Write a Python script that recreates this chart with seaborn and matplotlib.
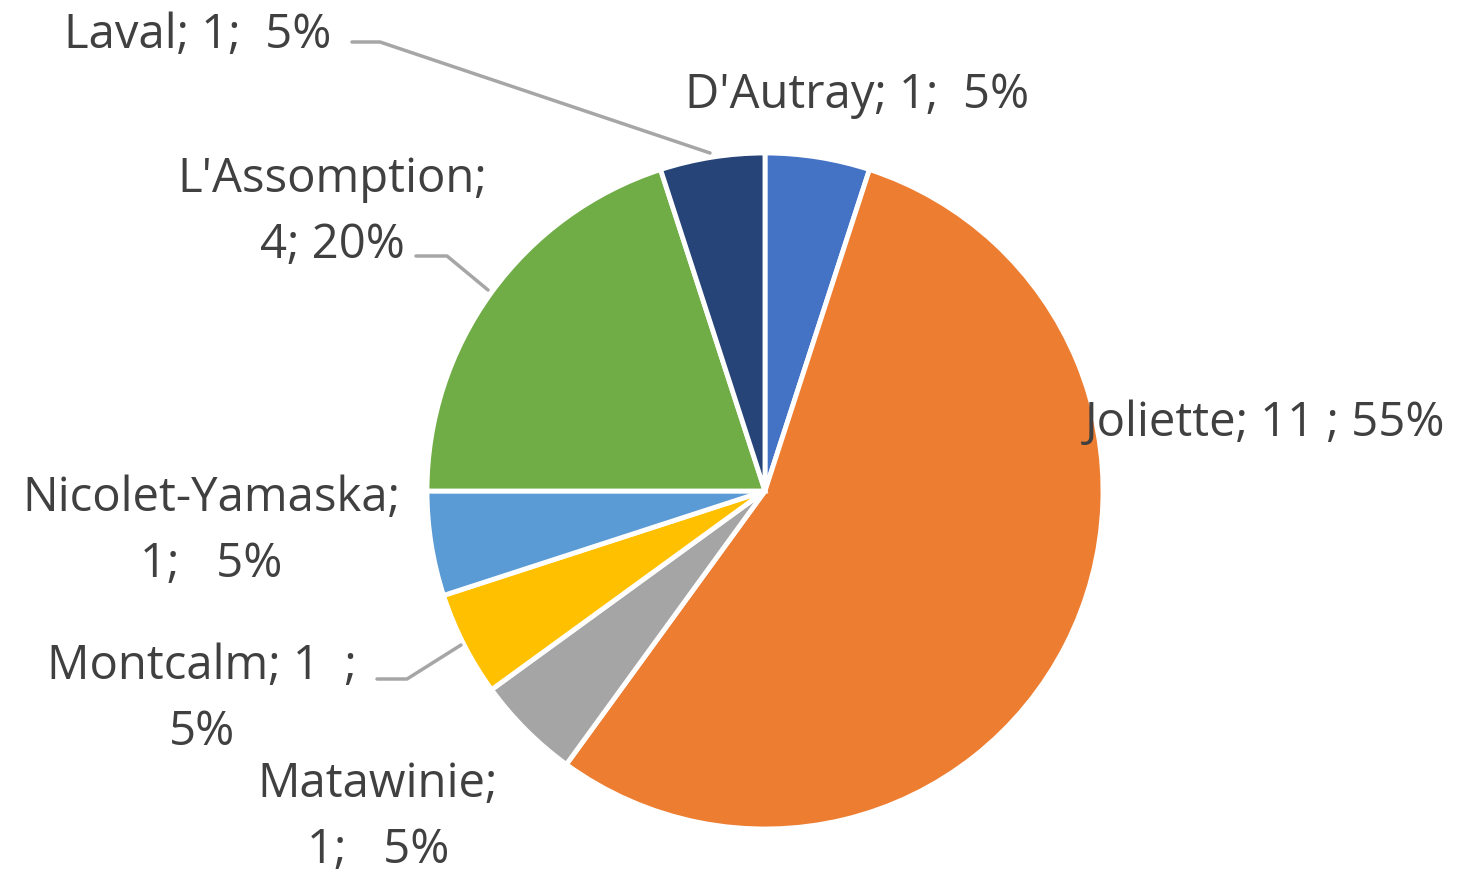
import matplotlib
matplotlib.use("Agg")
import matplotlib.pyplot as plt
import seaborn as sns

sns.set_theme(style="white")
plt.rcParams['font.family'] = ['Open Sans', 'DejaVu Sans']

categories = ["D'Autray", "Joliette", "Matawinie", "Montcalm", "Nicolet-Yamaska", "L'Assomption", "Laval"]
values = [1, 11, 1, 1, 1, 4, 1]
labels = ["D'Autray; 1;  5%", "Joliette; 11 ; 55%", "Matawinie;\n1;   5%", "Montcalm; 1  ;\n5%",
          "Nicolet-Yamaska;\n1;   5%", "L'Assomption;\n4; 20%", "Laval; 1;  5%"]
colors = ["#4472C4", "#ED7D31", "#A5A5A5", "#FFC000", "#5B9BD5", "#70AD47", "#264478"]

W, H = 1465, 875
fig = plt.figure(figsize=(W / 100, H / 100), dpi=100)
fig.patch.set_facecolor("white")

cx, cy, r = 765, 491, 338
ax = fig.add_axes([(cx - r) / W, (H - cy - r) / H, 2 * r / W, 2 * r / H])
ax.pie(values, colors=colors, startangle=90, counterclock=False, radius=1,
       wedgeprops=dict(edgecolor="white", linewidth=3.5))
ax.set_xlim(-1, 1)
ax.set_ylim(-1, 1)
ax.set_aspect("auto")
ax.axis("off")

tc = "#404040"
fs = 34

def px(x, y):
    return (x / W, 1 - y / H)

pos = {
    "D'Autray": (857, 95),
    "Joliette": (1265, 423),
    "Matawinie": (378, 817),
    "Montcalm": (202, 699),
    "Nicolet-Yamaska": (211, 531),
    "L'Assomption": (332, 212),
    "Laval": (198, 35),
}
for cat, lab in zip(categories, labels):
    x, y = pos[cat]
    fx, fy = px(x, y)
    fig.text(fx, fy, lab, ha="center", va="center", color=tc, fontsize=fs,
             multialignment="center", linespacing=1.5)

lc = "#A6A6A6"
leaders = [
    [(352, 42), (380, 42), (710, 153)],
    [(416, 256), (447, 256), (488, 290)],
    [(377, 679), (407, 679), (461, 645)],
]
for pts in leaders:
    xs = [p[0] / W for p in pts]
    ys = [1 - p[1] / H for p in pts]
    fig.add_artist(plt.Line2D(xs, ys, color=lc, linewidth=2.5, transform=fig.transFigure))

fig.savefig("out.png", dpi=100, facecolor="white")
